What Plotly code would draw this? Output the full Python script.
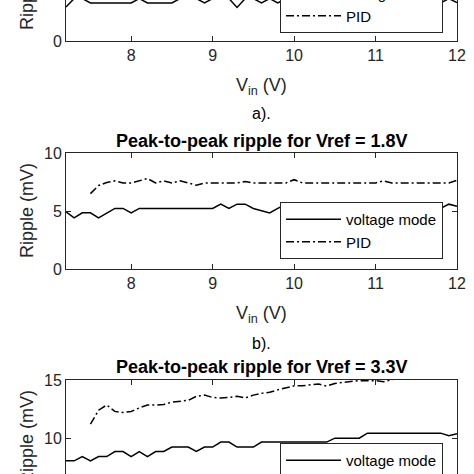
import plotly.graph_objects as go

# input voltage grid (V)
vin = [7.2, 7.3, 7.4, 7.5, 7.6, 7.7, 7.8, 7.9, 8.0, 8.1,
       8.2, 8.3, 8.4, 8.5, 8.6, 8.7, 8.8, 8.9, 9.0, 9.1,
       9.2, 9.3, 9.4, 9.5, 9.6, 9.7, 9.8, 9.9, 10.0, 10.1,
       10.2, 10.3, 10.4, 10.5, 10.6, 10.7, 10.8, 10.9, 11.0, 11.1,
       11.2, 11.3, 11.4, 11.5, 11.6, 11.7, 11.8, 11.9, 12.0]
vin_pid = vin[3:]

# a) only the bottom strip of this panel is visible
vm_a = [2.92, 3.65, 3.65, 3.27, 3.27, 3.27, 3.27, 3.27, 3.27, 3.65,
        3.27, 3.27, 3.27, 3.27, 3.65, 3.65, 3.65, 3.27, 3.65, 3.65,
        3.65, 2.89, 3.65, 3.65, 3.27, 3.65, 3.27, 3.65, 3.65, 3.27,
        3.65, 3.65, 3.65, 3.27, 3.65, 3.65, 3.65, 3.65, 3.27, 3.65,
        3.65, 3.65, 3.65, 3.27, 3.65, 3.65, 3.27, 3.65, 3.3]
pid_a_x = [7.5, 12.0]
pid_a = [6.0, 6.0]  # above the visible crop

# b) Vref = 1.8 V
vm_b = [4.93, 4.41, 4.84, 4.84, 4.41, 4.84, 5.22, 5.22, 4.84, 5.22,
        5.22, 5.22, 5.22, 5.22, 5.22, 5.22, 5.22, 5.22, 5.22, 5.59,
        5.22, 5.59, 5.59, 5.22, 5.05, 4.84, 5.22, 5.59, 5.22, 5.59,
        5.59, 5.59, 5.59, 5.22, 5.59, 5.22, 5.59, 5.59, 5.59, 5.22,
        5.22, 5.22, 5.59, 5.22, 5.59, 5.59, 5.22, 5.59, 5.4]
pid_b = [6.5, 7.2, 7.45, 7.6, 7.42, 7.42, 7.6, 7.8, 7.42, 7.6,
         7.42, 7.6, 7.42, 7.22, 7.42, 7.42, 7.42, 7.42, 7.42, 7.55,
         7.42, 7.42, 7.42, 7.42, 7.42, 7.7, 7.42, 7.42, 7.42, 7.42,
         7.42, 7.42, 7.42, 7.42, 7.42, 7.42, 7.6, 7.42, 7.42, 7.42,
         7.42, 7.42, 7.42, 7.42, 7.42, 7.65]

# c) Vref = 3.3 V
vm_c = [8.05, 8.05, 8.42, 8.05, 8.42, 8.42, 8.85, 8.85, 8.42, 8.85,
        8.42, 8.85, 8.85, 9.23, 9.23, 9.23, 8.85, 9.23, 9.23, 9.66,
        9.66, 9.23, 9.23, 9.23, 9.66, 9.66, 9.66, 9.66, 9.66, 9.66,
        9.66, 9.66, 9.66, 10.0, 10.0, 10.0, 10.0, 10.43, 10.43, 10.43,
        10.43, 10.43, 10.43, 10.43, 10.43, 10.43, 10.43, 10.2, 10.38]
pid_c = [11.2, 12.4, 12.85, 12.3, 12.2, 12.3, 12.6, 12.85, 12.85, 12.9,
         13.1, 13.2, 13.25, 13.6, 13.7, 13.5, 13.45, 13.5, 13.6, 13.45,
         13.7, 13.85, 13.95, 14.15, 14.3, 14.5, 14.5, 14.55, 14.66, 14.48,
         14.7, 14.8, 14.88, 14.94, 14.94, 14.94, 14.86, 15.06, 15.2, 15.3,
         15.3, 15.4, 15.4, 15.5, 15.5, 15.6]

titles = ["Peak-to-peak ripple for Vref = 1.8V", "Peak-to-peak ripple for Vref = 3.3V"]
captions = ["a).", "b)."]

W = H = 474
FONT = "Liberation Sans, Arial, sans-serif"
INK = "#262626"
DASHDOT = "8px,3px,2px,3px"


def py(p):
    # pixel row -> paper y
    return 1 - p / H


def px(p):
    # pixel column -> paper x (plot area 66..457)
    return (p - 66) / 391


fig = go.Figure()
panels = [
    ("x", "y", "legend", vm_a, pid_a_x, pid_a),
    ("x2", "y2", "legend2", vm_b, vin_pid, pid_b),
    ("x3", "y3", "legend3", vm_c, vin_pid, pid_c),
]
for xa, ya, lg, vm, xp, pid in panels:
    fig.add_trace(go.Scatter(x=vin, y=vm, mode="lines", name="voltage mode", xaxis=xa, yaxis=ya,
                             legend=lg, line=dict(color="black", width=1.5)))
    fig.add_trace(go.Scatter(x=xp, y=pid, mode="lines", name="PID", xaxis=xa, yaxis=ya,
                             legend=lg, line=dict(color="black", width=1.5, dash=DASHDOT)))

ax = dict(showline=True, linecolor=INK, linewidth=1, ticks="inside", ticklen=5, tickcolor=INK,
          showgrid=False, zeroline=False, tickfont=dict(family=FONT, size=16, color=INK))
xticks = [8, 9, 10, 11, 12]

leg = dict(xanchor="right", x=px(443), bgcolor="white", bordercolor=INK, borderwidth=1,
           font=dict(family=FONT, size=15, color="black"), itemwidth=55, tracegroupgap=0)

fig.update_layout(
    width=W, height=H,
    margin=dict(l=66, r=17, t=0, b=0, autoexpand=False),
    paper_bgcolor="white", plot_bgcolor="white",
    xaxis=dict(ax, anchor="y", range=[7.2, 12], tickvals=xticks),
    yaxis=dict(ax, domain=[py(41), 1], range=[0, 41 / 11.63], tickvals=[0], mirror="ticks"),
    xaxis2=dict(ax, anchor="y2", range=[7.2, 12], tickvals=xticks, mirror="ticks"),
    yaxis2=dict(ax, domain=[py(269), py(153)], range=[0, 10], tickvals=[0, 5, 10], mirror="ticks"),
    xaxis3=dict(ax, anchor="y3", range=[7.2, 12], tickvals=xticks, side="top", showticklabels=False),
    yaxis3=dict(ax, domain=[0, py(380)], range=[15 - 94 / 11.63, 15], tickvals=[10, 15], mirror="ticks"),
    legend=dict(leg, yanchor="bottom", y=py(33)),
    legend2=dict(leg, yanchor="bottom", y=py(259)),
    legend3=dict(leg, yanchor="top", y=py(443)),
    showlegend=True,
)

notes = []
# subplot titles
for t, yy in zip(titles, [140.7, 366.7]):
    notes.append(dict(text="<b>%s</b>" % t, x=0.5, y=py(yy), font=dict(size=18, color="black")))
# x axis titles and captions
for yy in [87, 314]:
    notes.append(dict(text="V<sub>in</sub> (V)", x=0.5, y=py(yy), font=dict(size=18, color=INK)))
for c, yy in zip(captions, [114, 343]):
    notes.append(dict(text=c, x=px(261), y=py(yy), font=dict(size=16, color="black")))
# y axis titles, centred on each full axis
for yy in [-17, 211, 438]:
    notes.append(dict(text="Ripple (mV)", x=px(27), y=py(yy), textangle=-90, font=dict(size=18, color=INK)))

for n in notes:
    n.setdefault("xref", "paper")
    n.setdefault("yref", "paper")
    n["showarrow"] = False
    n["xanchor"] = "center"
    n["yanchor"] = "middle"
    n["font"]["family"] = FONT
    fig.add_annotation(**n)

# drop the default page margin so the figure sits at the window corner
fig.write_html("out.html", config={"displayModeBar": False},
               post_script="document.body.style.margin='0';")
